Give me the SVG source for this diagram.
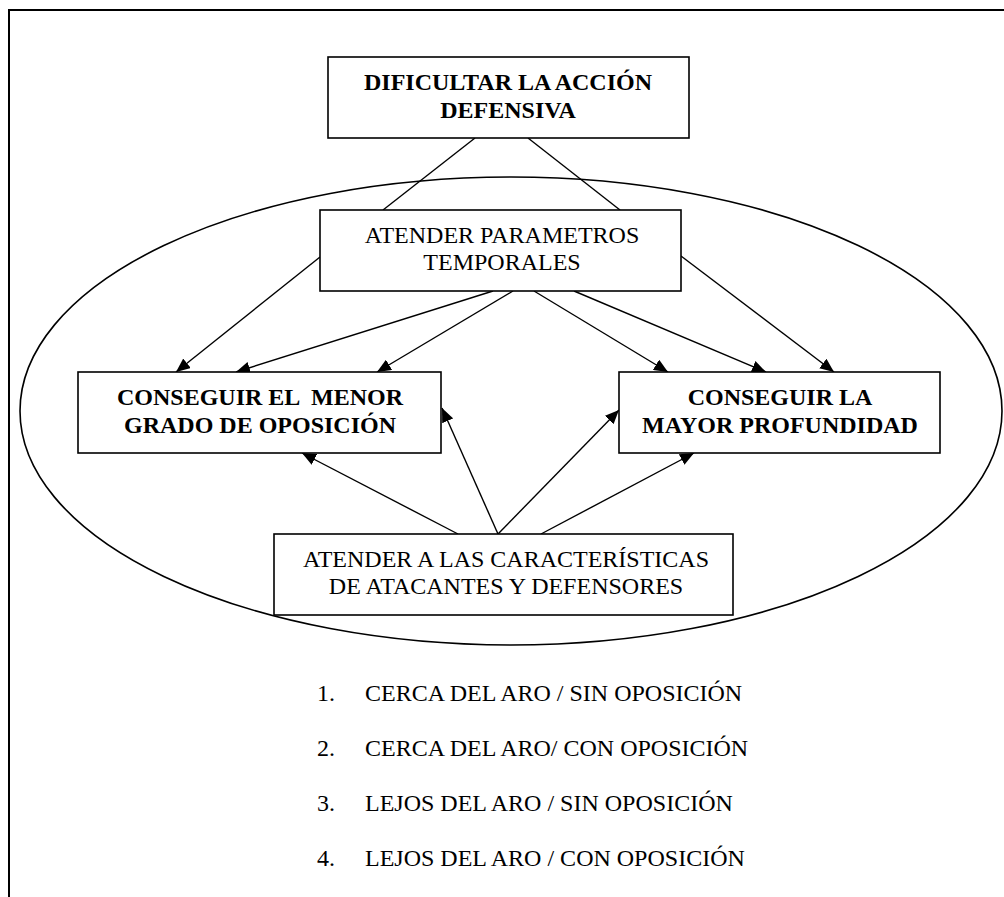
<svg xmlns="http://www.w3.org/2000/svg" width="1004" height="897" viewBox="0 0 1004 897">
<style>
.box{fill:#fff;stroke:#000;stroke-width:1.6}
.t{font-family:"Liberation Serif","Times New Roman",serif;font-size:24px;fill:#000;text-anchor:middle}
.b{font-weight:bold}
.l{font-family:"Liberation Serif","Times New Roman",serif;font-size:24px;fill:#000}
.c{stroke:#000;stroke-width:1.4;fill:none}
.a{marker-end:url(#ah)}
</style>
<defs>
<marker id="ah" markerUnits="userSpaceOnUse" markerWidth="14" markerHeight="12" refX="14" refY="6" orient="auto">
<path d="M0,0 L14,6 L0,12 z" fill="#000"/>
</marker>
</defs>
<rect width="1004" height="897" fill="#fff"/>
<path id="frame" d="M9,897 V10 H1010" fill="none" stroke="#000" stroke-width="2"/>
<ellipse id="ellipse" cx="511" cy="411" rx="491" ry="234" fill="none" stroke="#000" stroke-width="1.6"/>
<g id="connectors">
<line class="c" x1="475" y1="138" x2="383" y2="210"/>
<line class="c" x1="528" y1="138" x2="620" y2="210"/>
<line class="c a" x1="320" y1="257" x2="176" y2="372"/>
<line class="c a" x1="493" y1="291" x2="236" y2="372"/>
<line class="c a" x1="513" y1="291" x2="377" y2="372"/>
<line class="c a" x1="534" y1="291" x2="668" y2="372"/>
<line class="c a" x1="574" y1="291" x2="766" y2="372"/>
<line class="c a" x1="681" y1="256" x2="834" y2="372"/>
<line class="c a" x1="458" y1="534" x2="302" y2="453"/>
<line class="c a" x1="498" y1="534" x2="442" y2="408"/>
<line class="c a" x1="498" y1="534" x2="619" y2="410"/>
<line class="c a" x1="541" y1="534" x2="694" y2="453"/>
</g>
<g id="node-dificultar">
<rect class="box" x="328" y="57" width="361" height="81"/>
<text class="t b" x="508" y="90">DIFICULTAR LA ACCIÓN</text>
<text class="t b" x="508" y="118">DEFENSIVA</text>
</g>
<g id="node-temporales">
<rect class="box" x="320" y="210" width="361" height="81"/>
<text class="t" x="502" y="243">ATENDER PARAMETROS</text>
<text class="t" x="502" y="270">TEMPORALES</text>
</g>
<g id="node-menor">
<rect class="box" x="78" y="372" width="363" height="81"/>
<text class="t b" x="260" y="405" xml:space="preserve">CONSEGUIR EL  MENOR</text>
<text class="t b" x="260" y="433">GRADO DE OPOSICIÓN</text>
</g>
<g id="node-mayor">
<rect class="box" x="619" y="372" width="321" height="81"/>
<text class="t b" x="780" y="405">CONSEGUIR LA</text>
<text class="t b" x="780" y="433">MAYOR PROFUNDIDAD</text>
</g>
<g id="node-caracteristicas">
<rect class="box" x="274" y="534" width="459" height="81"/>
<text class="t" x="506" y="567">ATENDER A LAS CARACTERÍSTICAS</text>
<text class="t" x="506" y="594">DE ATACANTES Y DEFENSORES</text>
</g>
<g id="list">
<text class="l" x="317" y="701">1.</text>
<text class="l" x="365" y="701">CERCA DEL ARO / SIN OPOSICIÓN</text>
<text class="l" x="317" y="756">2.</text>
<text class="l" x="365" y="756">CERCA DEL ARO/ CON OPOSICIÓN</text>
<text class="l" x="317" y="811">3.</text>
<text class="l" x="365" y="811">LEJOS DEL ARO / SIN OPOSICIÓN</text>
<text class="l" x="317" y="866">4.</text>
<text class="l" x="365" y="866">LEJOS DEL ARO / CON OPOSICIÓN</text>
</g>
</svg>
